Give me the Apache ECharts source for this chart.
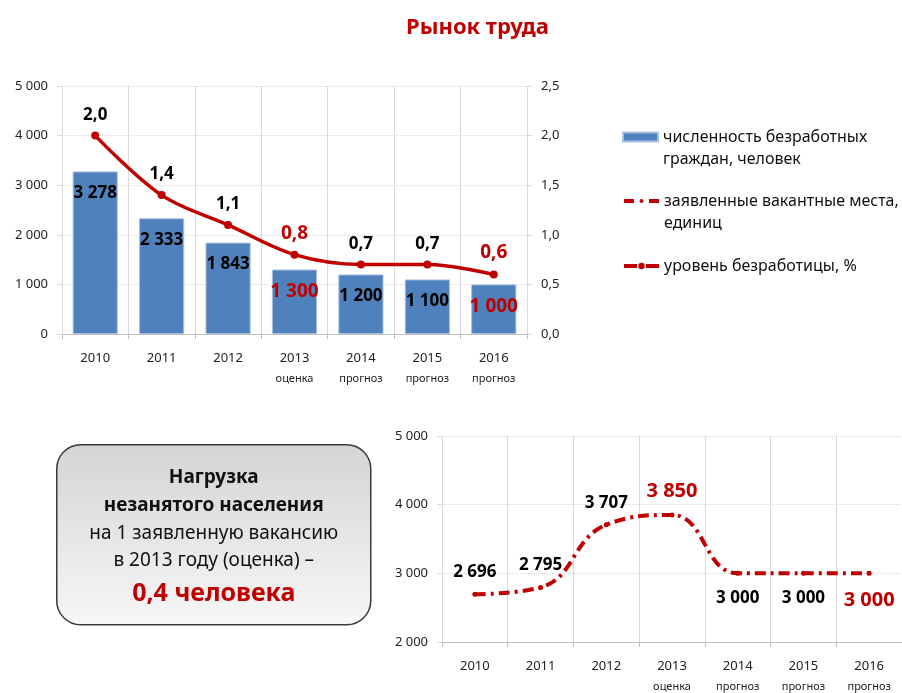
<!DOCTYPE html>
<html>
<head>
<meta charset="utf-8">
<script src="https://cdn.jsdelivr.net/npm/echarts@6/dist/echarts.min.js"></script>
<style>
html, body { margin: 0; padding: 0; background: #fff; }
#main { width: 902px; height: 693px; }
</style>
</head>
<body>
<div id="main"></div>
<script>
//////////// данные //////////////////
var years = ['2010', '2011', '2012', '2013', '2014', '2015', '2016'];
var yearNotes = ['', '', '', 'оценка', 'прогноз', 'прогноз', 'прогноз'];
var unemployed = [3278, 2333, 1843, 1300, 1200, 1100, 1000];
var unemploymentRate = [2.0, 1.4, 1.1, 0.8, 0.7, 0.7, 0.6];
var vacancies = [2696, 2795, 3707, 3850, 3000, 3000, 3000];

var nameBars = 'численность безработных граждан, человек';
var nameVac = 'заявленные вакантные места, единиц';
var nameRate = 'уровень безработицы, %';

// точки, подписи которых выделены красным
var redPoints = [3, 6];

var RED = '#C00000';
var FONT = 'Noto Sans';

function fmt(v) {
    return String(v).replace(/\B(?=(\d{3})+(?!\d))/g, ' ');
}
function comma(v) {
    return v.toFixed(1).replace('.', ',');
}
function isRed(i) {
    return redPoints.indexOf(i) >= 0;
}

var yearLabel = {
    interval: 0,
    margin: 15,
    color: '#222',
    fontFamily: FONT,
    formatter: function (v) {
        var n = yearNotes[years.indexOf(v)];
        return n ? '{y|' + v + '}\n{s|' + n + '}' : '{y|' + v + '}';
    },
    rich: {
        y: { fontSize: 13, lineHeight: 18, fontFamily: FONT, color: '#222' },
        s: { fontSize: 11, lineHeight: 24, fontFamily: FONT, color: '#222' }
    }
};

function catAxis(grid) {
    return {
        type: 'category',
        gridIndex: grid,
        data: years,
        axisLine: { lineStyle: { color: '#BFBFBF', width: 1 } },
        axisTick: { show: true, interval: 0, length: 5, lineStyle: { color: '#BFBFBF' } },
        splitLine: { show: true, interval: 0, lineStyle: { color: '#D9D9D9', width: 1 } },
        axisLabel: yearLabel
    };
}

function valAxis(grid, min, max, step, format, pos) {
    return {
        type: 'value',
        gridIndex: grid,
        position: pos,
        min: min,
        max: max,
        interval: step,
        axisLine: { show: false },
        axisTick: { show: true, length: 5, lineStyle: { color: '#D9D9D9' } },
        splitLine: { show: pos === 'left', lineStyle: { color: '#D9D9D9', type: 'dotted' } },
        axisLabel: { margin: 14, fontSize: 13, color: '#222', fontFamily: FONT, formatter: format }
    };
}

var barData = unemployed.map(function (v, i) {
    return { value: v, label: { color: isRed(i) ? RED : '#000', fontSize: isRed(i) ? 19 : 17 } };
});
var rateData = unemploymentRate.map(function (v, i) {
    return { value: v, label: { color: isRed(i) ? RED : '#000', fontSize: isRed(i) ? 19 : 17 } };
});
var vacData = vacancies.map(function (v, i) {
    return {
        value: v,
        label: {
            color: isRed(i) ? RED : '#000',
            fontSize: isRed(i) ? 20 : 17,
            position: i >= 4 ? 'bottom' : 'top',
            distance: i >= 4 ? 14 : 11
        }
    };
});

function legendItem(name, top, lines, itemHeight, icon, dash) {
    var text;
    if (lines.length > 1) {
        text = '{s| }\n' + lines.map(function (l) { return '{t|' + l + '}'; }).join('\n');
    } else {
        text = '{t|' + lines[0] + '}';
    }
    var lg = {
        data: [name],
        orient: 'vertical',
        left: 622,
        top: top,
        padding: 0,
        itemWidth: 35,
        itemHeight: itemHeight,
        selectedMode: false,
        formatter: function () { return text; },
        textStyle: {
            fontFamily: FONT,
            fontSize: 16,
            color: '#111',
            rich: {
                s: { fontSize: 16, lineHeight: 22, fontFamily: FONT },
                t: { fontSize: 16, lineHeight: 22, fontFamily: FONT, color: '#111' }
            }
        }
    };
    if (icon) lg.icon = icon;
    if (dash) lg.lineStyle = { type: dash, width: 4, color: RED };
    return lg;
}

var myChart = echarts.init(document.getElementById('main'), null, { renderer: 'canvas' });
var option = {
    backgroundColor: '#FFFFFF',
    animation: false,
    title: {
        text: 'Рынок труда',
        left: 401,
        top: 12,
        textStyle: { color: RED, fontSize: 22, fontWeight: 'bold', fontFamily: FONT }
    },
    legend: [
        legendItem(nameBars, 107, ['численность безработных', 'граждан, человек'], 9, 'rect'),
        legendItem(nameVac, 171, ['заявленные вакантные места,', 'единиц'], 5, null, [10, 15]),
        legendItem(nameRate, 258, ['уровень безработицы, %'], 8, null, [13, 9])
    ],
    grid: [
        { left: 62, top: 86, width: 465, height: 248 },
        { left: 442, top: 436, width: 463, height: 206 }
    ],
    xAxis: [catAxis(0), catAxis(1)],
    yAxis: [
        valAxis(0, 0, 5000, 1000, fmt, 'left'),
        valAxis(0, 0, 2.5, 0.5, comma, 'right'),
        valAxis(1, 2000, 5000, 1000, fmt, 'left')
    ],
    graphic: [{
        type: 'group',
        left: 56,
        top: 444,
        children: [{
            type: 'rect',
            shape: { x: 0, y: 0, width: 314, height: 180, r: 24 },
            style: {
                fill: new echarts.graphic.LinearGradient(0, 0, 0, 1, [
                    { offset: 0, color: '#D4D4D4' },
                    { offset: 1, color: '#F7F7F7' }
                ]),
                stroke: '#3A3A3A',
                lineWidth: 1.5
            }
        }, {
            type: 'text', x: 157, y: 33,
            style: { text: 'Нагрузка', align: 'center', verticalAlign: 'middle', font: 'bold 19px "Noto Sans"', fill: '#111' }
        }, {
            type: 'text', x: 157, y: 61,
            style: { text: 'незанятого населения', align: 'center', verticalAlign: 'middle', font: 'bold 19px "Noto Sans"', fill: '#111' }
        }, {
            type: 'text', x: 157, y: 89,
            style: { text: 'на 1 заявленную вакансию', align: 'center', verticalAlign: 'middle', font: '19px "Noto Sans"', fill: '#111' }
        }, {
            type: 'text', x: 157, y: 116,
            style: { text: 'в 2013 году (оценка) –', align: 'center', verticalAlign: 'middle', font: '19px "Noto Sans"', fill: '#111' }
        }, {
            type: 'text', x: 157, y: 149,
            style: { text: '0,4 человека', align: 'center', verticalAlign: 'middle', font: 'bold 25px "Noto Sans"', fill: RED }
        }]
    }],
    series: [
        {
            name: nameBars,
            type: 'bar',
            xAxisIndex: 0,
            yAxisIndex: 0,
            barWidth: '68%',
            data: barData,
            itemStyle: { color: '#4F81BD', borderColor: '#A9BFDF', borderWidth: 1 },
            label: {
                show: true,
                position: 'insideTop',
                distance: 13,
                fontWeight: 'bold',
                fontFamily: FONT,
                formatter: function (p) { return fmt(p.value); }
            }
        },
        {
            name: nameVac,
            type: 'line',
            xAxisIndex: 1,
            yAxisIndex: 2,
            smooth: 0.45,
            data: vacData,
            symbol: 'circle',
            symbolSize: 5,
            itemStyle: { color: RED },
            lineStyle: { color: RED, width: 4, type: [11, 5, 3, 5] },
            label: {
                show: true,
                fontWeight: 'bold',
                fontFamily: FONT,
                formatter: function (p) { return fmt(p.value); }
            },
            z: 3
        },
        {
            name: nameRate,
            type: 'line',
            xAxisIndex: 0,
            yAxisIndex: 1,
            smooth: 0.35,
            data: rateData,
            symbol: 'circle',
            symbolSize: 8,
            itemStyle: { color: RED },
            lineStyle: { color: RED, width: 3.5 },
            label: {
                show: true,
                position: 'top',
                distance: 8,
                fontWeight: 'bold',
                fontFamily: FONT,
                formatter: function (p) { return comma(p.value); }
            },
            z: 4
        }
    ]
};
myChart.setOption(option);
</script>
</body>
</html>
